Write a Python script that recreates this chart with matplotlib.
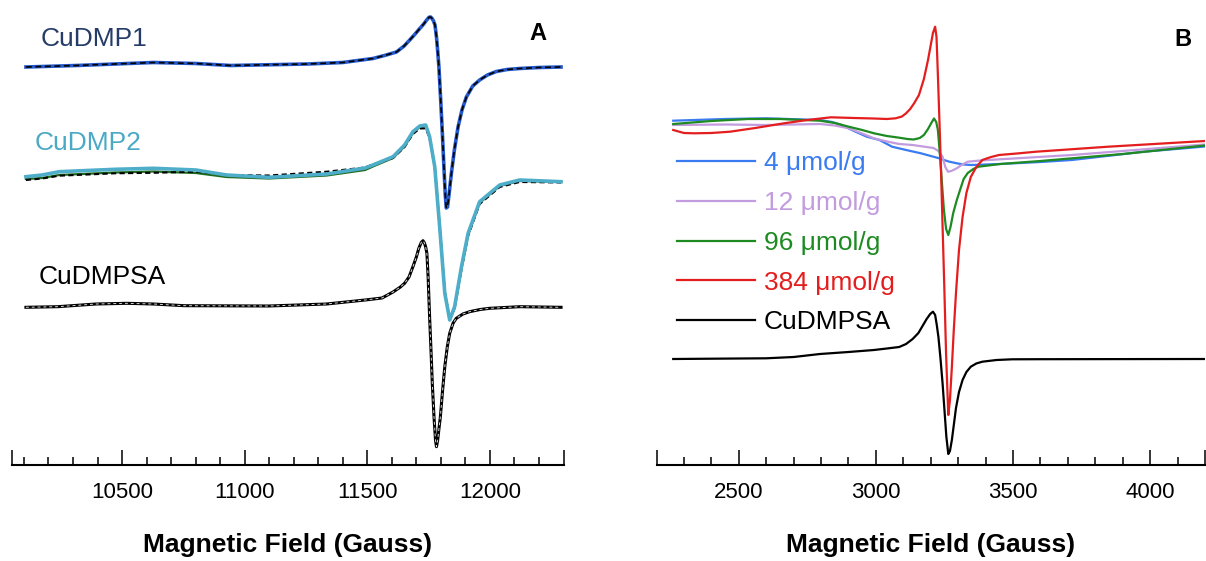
import matplotlib
matplotlib.use('Agg')
import matplotlib.pyplot as plt
from matplotlib.ticker import MultipleLocator

plt.rcParams['font.family'] = ['Liberation Sans', 'DejaVu Sans']

# ---------------- Panel A (field in Gauss, intensity relative to baseline) ----------------
field_dmp1 = [10108, 10315, 10628, 10801, 10942, 11256, 11400, 11523, 11570, 11619, 11650, 11673,
              11695, 11714, 11730, 11742, 11752, 11758, 11764, 11770, 11776, 11782, 11787, 11792,
              11799, 11806, 11813, 11818, 11822, 11827, 11833, 11843, 11855, 11870, 11886, 11904,
              11930, 11958, 11990, 12026, 12070, 12121, 12200, 12290]
dmp1 = [0, 1.5, 4.5, 3.5, 1.5, 3, 4.5, 8.5, 11.5, 15, 21, 27,
        33, 38.5, 43, 47, 49.8, 50, 48.5, 46, 42, 30, 16, 0,
        -32, -66, -103, -128, -141, -140, -128, -106, -83, -60, -43, -30,
        -19, -13, -8, -4.5, -2.5, -1.5, -0.5, 0]

field_dmp2 = [10108, 10174, 10244, 10472, 10628, 10801, 10926, 11099, 11334, 11491, 11523, 11605,
              11652, 11686, 11714, 11738, 11754, 11775, 11795, 11816, 11836, 11856, 11884, 11911,
              11958, 12040, 12121, 12290]
dmp2 = [0.3, 2, 5.3, 7.7, 8.7, 7, 2, -0.3, 3, 9, 12, 20.3,
        32, 45.3, 51, 52, 40.3, 10.3, -49.7, -116.3, -143, -129.7, -89.7, -56.3,
        -24.7, -8, -3, -4.7]
dmp2_green = [-2, -1, 2, 4.5, 5.5, 4, 0, -1.5, 1.5, 7, 10.5, 19,
              30.5, 44, 50, 51, 40, 10, -49, -115, -143, -131, -92, -58,
              -26, -9, -4, -5]
dmp2_fit = [-3, -1.5, 1.3, 3.7, 4.2, 5.3, 2, 1.5, 5.3, 9.5, 12.5, 19,
            30, 43, 48.5, 48.7, 39, 10, -49, -115, -142, -131, -92, -59,
            -27, -10, -5, -5.5]

field_dmpsa_a = [10108, 10237, 10394, 10519, 10628, 10754, 11099, 11334, 11491, 11560, 11605, 11635,
                 11652, 11670, 11686, 11700, 11710, 11720, 11727, 11733, 11738, 11743, 11748, 11754,
                 11760, 11765, 11772, 11778, 11782, 11787, 11792, 11798, 11806, 11816, 11826, 11836,
                 11850, 11863, 11890, 11917, 11960, 11999, 12121, 12290]
dmpsa_a = [-0.3, 0.3, 3, 3.7, 3, 1.3, 1, 3, 7, 9, 15, 20,
           23.7, 30, 40.3, 50, 58.7, 64.5, 66.3, 64, 60, 53.7, 30, -9.7,
           -45, -76.3, -110, -133, -139.7, -133, -122, -109.7, -86, -59.7, -40, -26.3,
           -16, -11.3, -7, -4.7, -2.5, -1.3, 0.3, -0.3]

offset_dmp1, offset_dmp2, offset_dmpsa_a = 398, 288, 158

# ---------------- Panel B ----------------
field_4 = [2261, 2450, 2600, 2796, 2840, 2875, 2920, 2967, 3013, 3059, 3110, 3164, 3200, 3231,
           3265, 3295, 3320, 3348, 3400, 3453, 3600, 3715, 3978, 4200]
int_4 = [344.3, 346, 346.7, 345, 343, 340, 334, 328.3, 325, 318.3, 315, 311.7, 309, 306.7,
         303.5, 301.7, 300.5, 300, 300.5, 301, 303, 305, 313.3, 318.5]

field_12 = [2261, 2450, 2600, 2796, 2850, 2901, 2950, 2993, 3040, 3085, 3134, 3177, 3210, 3228,
            3243, 3253, 3263, 3275, 3295, 3315, 3335, 3380, 3453, 3715, 4200]
int_12 = [340, 340.5, 340, 341, 339.5, 336.7, 331.5, 326.7, 323.5, 321, 320, 318.3, 317, 314,
          308.3, 298, 293.3, 294, 296.7, 300.5, 303.3, 304.5, 305.7, 310, 320.5]

field_96 = [2261, 2400, 2534, 2650, 2796, 2850, 2901, 2950, 2993, 3040, 3085, 3115, 3138, 3160,
            3175, 3190, 3202, 3212, 3220, 3226, 3233, 3240, 3248, 3256, 3264, 3272, 3282, 3295,
            3308, 3320, 3335, 3355, 3374, 3453, 3600, 3715, 3900, 4200]
int_96 = [341, 344, 346, 346, 344.3, 342, 338.3, 335, 331.7, 329, 327.3, 326, 325.5, 327,
          330, 336, 342, 346.5, 343, 335, 312, 285, 255, 236, 230, 238, 252, 265,
          276, 286, 292, 296, 298.3, 301, 304, 306.7, 311, 319.5]

field_384 = [2261, 2300, 2337, 2400, 2468, 2560, 2665, 2750, 2836, 2920, 2993, 3040, 3072, 3095,
             3110, 3125, 3140, 3157, 3175, 3190, 3200, 3208, 3216, 3221, 3225, 3231, 3237, 3243,
             3249, 3256, 3264, 3270, 3277, 3284, 3292, 3303, 3316, 3330, 3346, 3366, 3388, 3420,
             3449, 3522, 3584, 3847, 4200]
int_384 = [335, 332, 331.7, 332, 333.3, 337, 341.7, 345, 347.7, 347, 346.5, 346, 346.7, 348.5,
           351.7, 356, 362, 370, 386, 405, 420, 432, 438.3, 428, 398, 350, 298, 240,
           182, 110, 50, 65, 98, 135, 172, 215, 248, 272, 288, 298, 305, 308,
           310, 311.7, 313.3, 318.3, 324]

field_dmpsa_b = [2261, 2400, 2600, 2700, 2796, 2900, 2993, 3040, 3085, 3110, 3134, 3155, 3170, 3185,
                 3198, 3208, 3216, 3222, 3228, 3235, 3243, 3250, 3257, 3264, 3270, 3277, 3285, 3292,
                 3303, 3316, 3330, 3346, 3366, 3388, 3440, 3497, 3600, 4200]
dmpsa_b = [0, 0.3, 0.7, 2, 5, 7, 9, 10.5, 12, 15, 20, 26, 33, 40,
           45, 47.3, 44, 34, 22, 2, -24, -51, -78, -95, -92, -81, -64, -49,
           -33, -21, -13, -7.7, -4.5, -2.7, -1, -0.3, -0.2, 0]
offset_dmpsa_b = 106

labels_b = ['4 μmol/g', '12 μmol/g', '96 μmol/g', '384 μmol/g', 'CuDMPSA']
colors_b = ['#3a7bf2', '#c39bdf', '#1e8b22', '#e41e1e', 'black']

fig = plt.figure(figsize=(12.06, 5.61), dpi=100)
axA = fig.add_axes([11.7 / 1206, 96 / 561, (563.5 - 11.7) / 1206, 465 / 561])
axB = fig.add_axes([656.5 / 1206, 96 / 561, (1205 - 656.5) / 1206, 465 / 561])


def style_axis(ax, xlim, majors):
    ax.set_xlim(xlim)
    ax.set_ylim(0, 465)
    for s in ['left', 'right', 'top']:
        ax.spines[s].set_visible(False)
    ax.spines['bottom'].set_linewidth(1.5)
    ax.set_yticks([])
    ax.set_xticks([xlim[0]] + majors + [xlim[1]])
    ax.set_xticklabels([''] + [str(m) for m in majors] + [''])
    ax.xaxis.set_minor_locator(MultipleLocator(100))
    ax.tick_params(axis='x', which='major', direction='in', length=10.8, width=1.1,
                   labelsize=16, pad=12)
    ax.tick_params(axis='x', which='minor', direction='in', length=5.5, width=1.1)
    ax.set_xlabel('Magnetic Field (Gauss)', fontsize=19, fontweight='bold', labelpad=22)


# Panel A curves (experiment + dashed simulation on top)
yA1 = [v + offset_dmp1 for v in dmp1]
axA.plot(field_dmp1, yA1, color='#2458c8', lw=2.6, solid_joinstyle='round')
axA.plot(field_dmp1, yA1, color='black', lw=1.2, dashes=(3.5, 2.2))

axA.plot(field_dmp2, [v + offset_dmp2 for v in dmp2_green], color='#1e6b1e', lw=1.6)
axA.plot(field_dmp2, [v + offset_dmp2 for v in dmp2_fit], color='black', lw=1.5, dashes=(2.5, 1.6))
axA.plot(field_dmp2, [v + offset_dmp2 for v in dmp2], color='#4eadc9', lw=2.6)

yA3 = [v + offset_dmpsa_a for v in dmpsa_a]
axA.plot(field_dmpsa_a, yA3, color='black', lw=2.2)
axA.plot(field_dmpsa_a, yA3, color='#d8d8d8', lw=0.7, dashes=(3, 3))

axA.text(10166, 419, 'CuDMP1', color='#253c68', fontsize=19, va='baseline')
axA.text(10142, 315, 'CuDMP2', color='#4ba9c6', fontsize=19, va='baseline')
axA.text(10158, 181, 'CuDMPSA', color='black', fontsize=19, va='baseline')
axA.text(12195, 425, 'A', fontsize=17, fontweight='bold', ha='center', va='baseline')
style_axis(axA, (10050, 12300), [10500, 11000, 11500, 12000])

# Panel B curves
series_b = [(field_4, int_4), (field_12, int_12), (field_96, int_96), (field_384, int_384),
            (field_dmpsa_b, [v + offset_dmpsa_b for v in dmpsa_b])]
for (fx, fy), lab, col in zip(series_b, labels_b, colors_b):
    axB.plot(fx, fy, color=col, lw=1.6, label=lab)

axB.legend(loc='upper left', bbox_to_anchor=(0.0368, 0.675), frameon=False, fontsize=19,
           labelcolor='linecolor', handlelength=2.95, handletextpad=0.34, labelspacing=0.6,
           borderpad=0, borderaxespad=0)
axB.text(4121, 419, 'B', fontsize=17, fontweight='bold', ha='center', va='baseline')
style_axis(axB, (2200, 4200), [2500, 3000, 3500, 4000])

fig.savefig('out.png', dpi=100, facecolor='white')
